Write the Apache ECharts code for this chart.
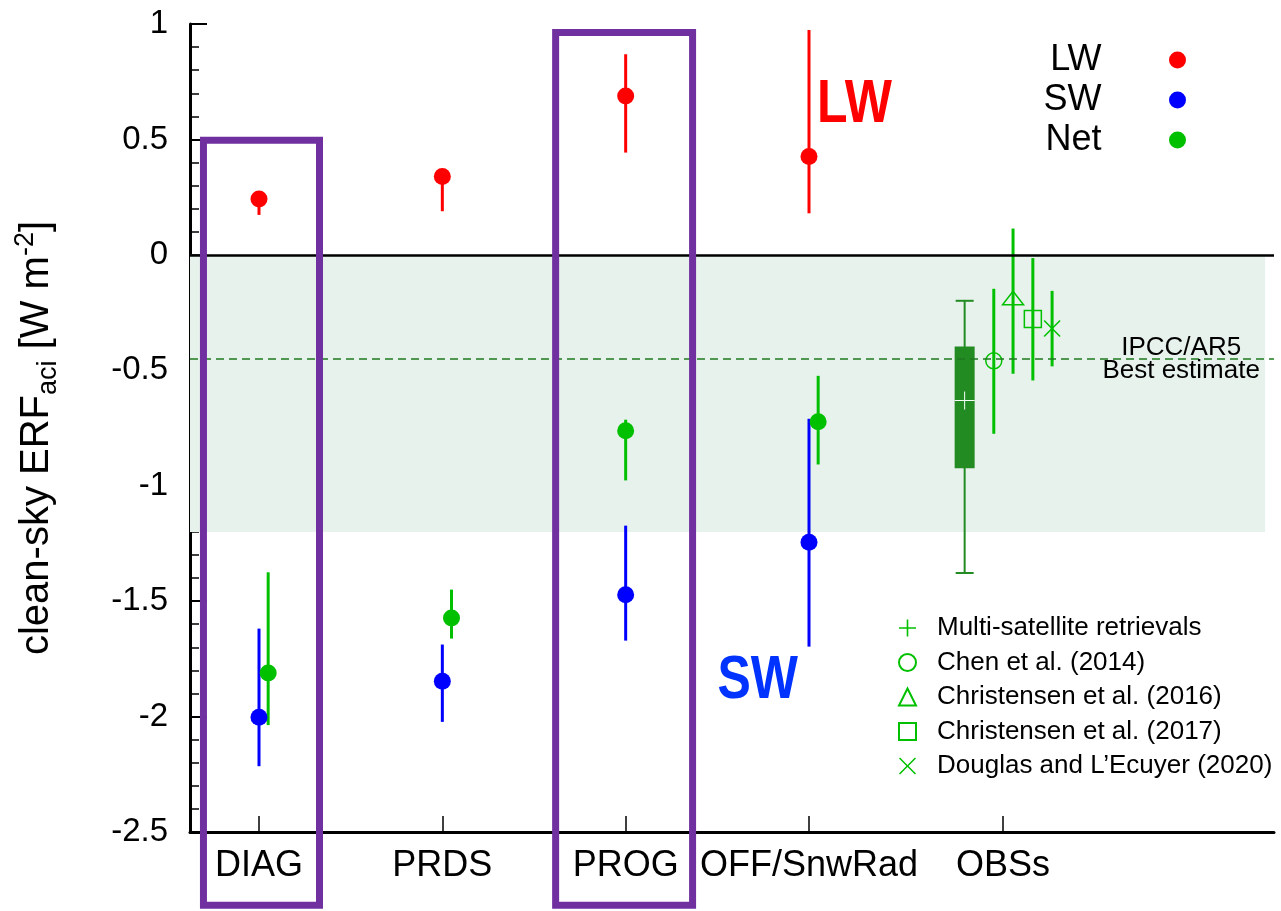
<!DOCTYPE html>
<html>
<head>
<meta charset="UTF-8">
<title>clean-sky ERFaci</title>
<script src="https://cdn.jsdelivr.net/npm/echarts@6/dist/echarts.min.js"></script>
<style>
  html, body { margin: 0; padding: 0; background: #fff; }
  #chart { width: 1281px; height: 911px; }
</style>
</head>
<body>
<div id="chart"></div>
<script>
// x axis categories and where their ticks sit
const categories = ['DIAG', 'PRDS', 'PROG', 'OFF/SnwRad', 'OBSs'];
const categoryX = [1, 2, 3, 4, 5.058];

// model experiments: mean, lower and upper end of the bar
const lwX = [1, 2, 3, 4];
const lwMean = [0.242, 0.339, 0.688, 0.426];
const lwLow = [0.173, 0.189, 0.443, 0.18];
const lwHigh = [0.26, 0.35, 0.869, 0.974];

const swX = [1, 2, 3, 4];
const swMean = [-2.003, -1.847, -1.472, -1.245];
const swLow = [-2.215, -2.023, -1.671, -1.697];
const swHigh = [-1.619, -1.688, -1.173, -0.71];

const netX = [1.05, 2.05, 3, 4.05];
const netMean = [-1.811, -1.573, -0.762, -0.723];
const netLow = [-2.037, -1.662, -0.977, -0.908];
const netHigh = [-1.375, -1.45, -0.714, -0.524];

// multi-satellite retrievals: min, q1, centre, q3, max
const satX = 4.849;
const satStats = [-1.378, -0.924, -0.631, -0.397, -0.199];

// published observational estimates
const studyNames = ['Chen et al. (2014)', 'Christensen et al. (2016)', 'Christensen et al. (2017)', 'Douglas and L\u2019Ecuyer (2020)'];
const studyX = [5.008, 5.113, 5.221, 5.326];
const studyMean = [-0.459, -0.19, -0.278, -0.319];
const studyLow = [-0.775, -0.515, -0.544, -0.483];
const studyHigh = [-0.147, 0.114, -0.014, -0.156];

// IPCC AR5 range and best estimate
const ipccRange = [-1.2, 0];
const ipccBest = -0.45;

const FONT = '"Liberation Sans", Arial, Helvetica, sans-serif';
const RED = '#ff0000', BLUE = '#0000ff', GREEN = '#00c000', DARK = '#228b22', PURPLE = '#7030a0';

function errorBars(xs, low, high, color) {
    return {
        type: 'custom', silent: true, z: 3,
        data: xs.map((x, i) => [x, low[i], high[i]]),
        renderItem: function (params, api) {
            const a = api.coord([api.value(0), api.value(1)]);
            const b = api.coord([api.value(0), api.value(2)]);
            return { type: 'line', shape: { x1: a[0], y1: a[1], x2: b[0], y2: b[1] }, style: { stroke: color, lineWidth: 3 } };
        }
    };
}

function dots(name, xs, ys, color) {
    return {
        name: name, type: 'scatter', silent: true, z: 4,
        symbol: 'circle', symbolSize: 17,
        itemStyle: { color: color, opacity: 1 },
        data: xs.map((x, i) => [x, ys[i]])
    };
}

const outline = { fill: 'none', stroke: GREEN, lineWidth: 1.5 };
const markers = [
    p => ({ type: 'circle', shape: { cx: p[0], cy: p[1], r: 8 }, style: outline }),
    p => ({ type: 'polygon', shape: { points: [[p[0], p[1] - 7.5], [p[0] + 10.5, p[1] + 6], [p[0] - 10.5, p[1] + 6]] }, style: outline }),
    p => ({ type: 'rect', shape: { x: p[0] - 8.5, y: p[1] - 8.5, width: 17, height: 17 }, style: outline }),
    p => ({ type: 'group', children: [
        { type: 'line', shape: { x1: p[0] - 8, y1: p[1] - 8, x2: p[0] + 8, y2: p[1] + 8 }, style: outline },
        { type: 'line', shape: { x1: p[0] - 8, y1: p[1] + 8, x2: p[0] + 8, y2: p[1] - 8 }, style: outline }
    ] })
];

function studySeries(i) {
    return {
        name: studyNames[i], type: 'custom', silent: true, z: 4,
        itemStyle: { color: GREEN },
        data: [[studyX[i], studyMean[i], studyLow[i], studyHigh[i]]],
        renderItem: function (params, api) {
            const p = api.coord([api.value(0), api.value(1)]);
            const lo = api.coord([api.value(0), api.value(2)]);
            const hi = api.coord([api.value(0), api.value(3)]);
            return { type: 'group', children: [
                { type: 'line', shape: { x1: lo[0], y1: lo[1], x2: hi[0], y2: hi[1] }, style: { stroke: GREEN, lineWidth: 3 } },
                markers[i](p)
            ] };
        }
    };
}

const satSeries = {
    name: 'Multi-satellite retrievals', type: 'custom', silent: true, z: 4,
    itemStyle: { color: GREEN },
    data: [[satX].concat(satStats)],
    renderItem: function (params, api) {
        const x = api.value(0);
        const c = k => api.coord([x, api.value(k)]);
        const lo = c(1), q1 = c(2), mid = c(3), q3 = c(4), hi = c(5);
        const cx = lo[0];
        const st = { stroke: DARK, lineWidth: 2 };
        return { type: 'group', children: [
            { type: 'line', shape: { x1: cx, y1: lo[1], x2: cx, y2: hi[1] }, style: st },
            { type: 'line', shape: { x1: cx - 9, y1: lo[1], x2: cx + 9, y2: lo[1] }, style: st },
            { type: 'line', shape: { x1: cx - 9, y1: hi[1], x2: cx + 9, y2: hi[1] }, style: st },
            { type: 'rect', shape: { x: cx - 10, y: q3[1], width: 20, height: q1[1] - q3[1] }, style: { fill: DARK } },
            { type: 'line', shape: { x1: cx - 10, y1: mid[1], x2: cx + 10, y2: mid[1] }, style: { stroke: '#fff', lineWidth: 1 } },
            { type: 'line', shape: { x1: cx, y1: mid[1] - 9, x2: cx, y2: mid[1] + 9 }, style: { stroke: '#fff', lineWidth: 1 } }
        ] };
    }
};

const bigLabels = [
    { text: 'LW', color: RED, at: [4.044, 0.649] },
    { text: 'SW', color: '#0033ff', at: [3.501, -1.846] }
];

const plusIcon = 'path://M7.25,0H8.75V16H7.25ZM0,7.25H16V8.75H0Z';
const crossIcon = 'path://M1,0L8,7L15,0L16,1L9,8L16,15L15,16L8,9L1,16L0,15L7,8L0,1Z';

var chart = echarts.init(document.getElementById('chart'));

var option = {
    animation: false,
    backgroundColor: '#fff',
    textStyle: { fontFamily: FONT },
    grid: { left: 190, right: 7, top: 24, bottom: 79 },
    legend: [{
        data: ['LW', 'SW', 'Net'].map(n => ({ name: n, icon: 'circle' })),
        orient: 'vertical', align: 'right', right: 95, top: 42, padding: 0,
        itemWidth: 142, itemHeight: 17, itemGap: 4,
        itemStyle: { opacity: 1 },
        textStyle: { fontSize: 36, color: '#000', fontFamily: FONT },
        selectedMode: false
    }, {
        data: [
            { name: 'Multi-satellite retrievals', icon: plusIcon },
            { name: studyNames[0], icon: 'emptyCircle' },
            { name: studyNames[1], icon: 'emptyTriangle' },
            { name: studyNames[2], icon: 'emptyRect' },
            { name: studyNames[3], icon: crossIcon }
        ],
        orient: 'vertical', left: 898, top: 615, padding: 0,
        itemWidth: 17, itemHeight: 17, itemGap: 8.5,
        textStyle: { fontSize: 26, color: '#000', fontFamily: FONT, padding: [0, 0, 0, 16] },
        selectedMode: false
    }],
    xAxis: {
        type: 'value', min: 0.6236, max: 6.5364,
        axisLine: { onZero: false, lineStyle: { color: '#000', width: 3 } },
        axisTick: { inside: true, length: 16, customValues: categoryX, lineStyle: { color: '#000', width: 1.5 } },
        axisLabel: {
            customValues: categoryX, margin: 16, fontSize: 36, color: '#000', fontFamily: FONT,
            formatter: function (v) {
                let best = 0;
                categoryX.forEach((x, i) => { if (Math.abs(x - v) < Math.abs(categoryX[best] - v)) best = i; });
                return categories[best];
            }
        },
        splitLine: { show: false }
    },
    yAxis: {
        type: 'value', min: -2.5, max: 1, interval: 0.5,
        axisLine: { show: true, onZero: false, lineStyle: { color: '#000', width: 3 } },
        axisTick: { inside: true, length: 17, lineStyle: { color: '#000', width: 2 } },
        minorTick: { show: true, splitNumber: 5, length: 9, lineStyle: { color: '#000', width: 1.5 } },
        axisLabel: { fontSize: 33, color: '#000', margin: 22, fontFamily: FONT },
        splitLine: { show: false },
        name: '{a|clean-sky ERF}{b|aci}{a| [W m}{c|-2}{a|]}{d| }',
        nameLocation: 'middle', nameRotate: 90, nameGap: 128,
        nameTextStyle: {
            color: '#000', fontFamily: FONT,
            rich: {
                a: { fontSize: 40, lineHeight: 50, fontFamily: FONT, color: '#000' },
                b: { fontSize: 27, verticalAlign: 'bottom', fontFamily: FONT, color: '#000' },
                c: { fontSize: 27, verticalAlign: 'top', fontFamily: FONT, color: '#000' },
                d: { fontSize: 40, width: 20 }
            }
        }
    },
    series: [
        // IPCC range shading
        {
            type: 'line', data: [], z: 1, silent: true,
            markArea: {
                silent: true,
                itemStyle: { color: '#e8f2ec' },
                data: [[{ xAxis: 0.6236, yAxis: ipccRange[1] }, { xAxis: 6.488, yAxis: ipccRange[0] }]]
            }
        },
        // zero line and IPCC best estimate
        {
            type: 'line', data: [], z: 2, silent: true,
            markLine: {
                silent: true, symbol: 'none', label: { show: false },
                data: [
                    { yAxis: 0, lineStyle: { color: '#000', width: 2.5, type: 'solid' } },
                    { yAxis: ipccBest, lineStyle: { color: '#1e7a1e', width: 1.5, type: [8, 5] } }
                ]
            }
        },
        errorBars(lwX, lwLow, lwHigh, RED),
        errorBars(swX, swLow, swHigh, BLUE),
        errorBars(netX, netLow, netHigh, GREEN),
        dots('LW', lwX, lwMean, RED),
        dots('SW', swX, swMean, BLUE),
        dots('Net', netX, netMean, GREEN),
        satSeries,
        studySeries(0), studySeries(1), studySeries(2), studySeries(3),
        // big LW / SW labels
        {
            type: 'custom', silent: true, z: 5,
            data: bigLabels.map(l => l.at),
            renderItem: function (params, api) {
                const p = api.coord([api.value(0), api.value(1)]);
                const l = bigLabels[params.dataIndex];
                return {
                    type: 'text', x: p[0], y: p[1], scaleY: 1.23,
                    style: { text: l.text, fill: l.color, font: 'bold 50px ' + FONT, align: 'left', verticalAlign: 'middle' }
                };
            }
        },
        // IPCC label
        {
            type: 'custom', silent: true, z: 5,
            data: [[6.03, ipccBest]],
            renderItem: function (params, api) {
                const p = api.coord([api.value(0), api.value(1)]);
                return {
                    type: 'text', x: p[0], y: p[1] + 1,
                    style: { text: 'IPCC/AR5\nBest estimate', fill: '#000', font: '26px ' + FONT, lineHeight: 23, align: 'center', verticalAlign: 'middle' }
                };
            }
        },
        // DIAG and PROG highlight frames
        {
            type: 'custom', silent: true, z: 10, clip: false,
            data: [[0.697, 1.33, 0.496, -2.817], [2.618, 3.365, 0.963, -2.817]],
            renderItem: function (params, api) {
                const a = api.coord([api.value(0), api.value(2)]);
                const b = api.coord([api.value(1), api.value(3)]);
                return {
                    type: 'rect', shape: { x: a[0], y: a[1], width: b[0] - a[0], height: b[1] - a[1] },
                    style: { fill: 'none', stroke: PURPLE, lineWidth: 7 }
                };
            }
        }
    ]
};

chart.setOption(option);
</script>
</body>
</html>
